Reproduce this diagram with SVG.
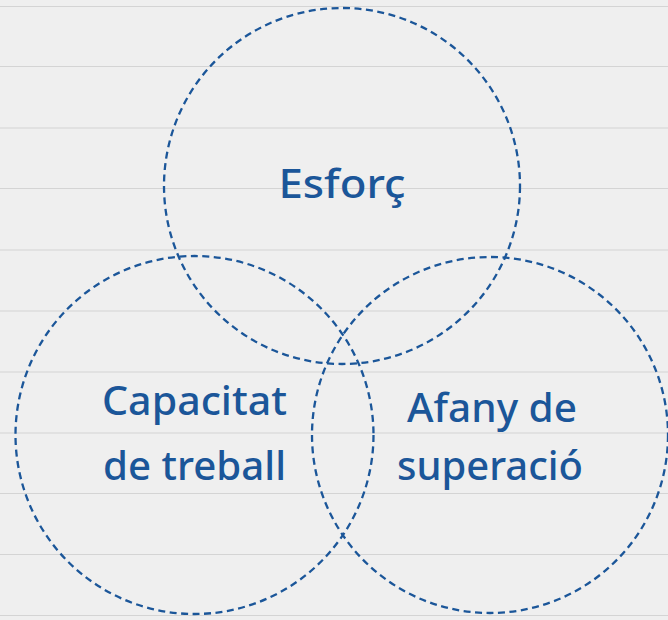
<svg xmlns="http://www.w3.org/2000/svg" width="668" height="620" viewBox="0 0 668 620">
<style>
.bg{fill:#efefef}
.rule{stroke:#d4d4d4;stroke-width:1.2}
.c{fill:none;stroke:#1b5699;stroke-width:2.3;stroke-dasharray:7 4.5}
.t{font-family:"Noto Sans","Open Sans",sans-serif;font-size:40px;font-weight:500;fill:#1b5699;text-anchor:middle}
</style>
<rect class="bg" x="0" y="0" width="668" height="620"/>
<g id="rules">
<line class="rule" x1="0" y1="6.5" x2="668" y2="6.5"/>
<line class="rule" x1="0" y1="66.5" x2="668" y2="66.5"/>
<line class="rule" x1="0" y1="128" x2="668" y2="128"/>
<line class="rule" x1="0" y1="188.5" x2="668" y2="188.5"/>
<line class="rule" x1="0" y1="250" x2="668" y2="250"/>
<line class="rule" x1="0" y1="311" x2="668" y2="311"/>
<line class="rule" x1="0" y1="372" x2="668" y2="372"/>
<line class="rule" x1="0" y1="433" x2="668" y2="433"/>
<line class="rule" x1="0" y1="493.5" x2="668" y2="493.5"/>
<line class="rule" x1="0" y1="554.5" x2="668" y2="554.5"/>
<line class="rule" x1="0" y1="615.5" x2="668" y2="615.5"/>
</g>
<g id="esforc">
<circle class="c" cx="342" cy="186" r="178"/>
<text class="t" x="342" y="198" textLength="127" lengthAdjust="spacingAndGlyphs">Esforç</text>
</g>
<g id="capacitat">
<circle class="c" cx="194.5" cy="435" r="179"/>
<text class="t" x="194.5" y="415" textLength="185" lengthAdjust="spacingAndGlyphs">Capacitat</text>
<text class="t" x="194.5" y="480" textLength="183" lengthAdjust="spacingAndGlyphs">de treball</text>
</g>
<g id="afany">
<circle class="c" cx="490" cy="435" r="178"/>
<text class="t" x="492" y="422" textLength="170" lengthAdjust="spacingAndGlyphs">Afany de</text>
<text class="t" x="490" y="480" textLength="186" lengthAdjust="spacingAndGlyphs">superació</text>
</g>
<g id="connectors"/>
</svg>
